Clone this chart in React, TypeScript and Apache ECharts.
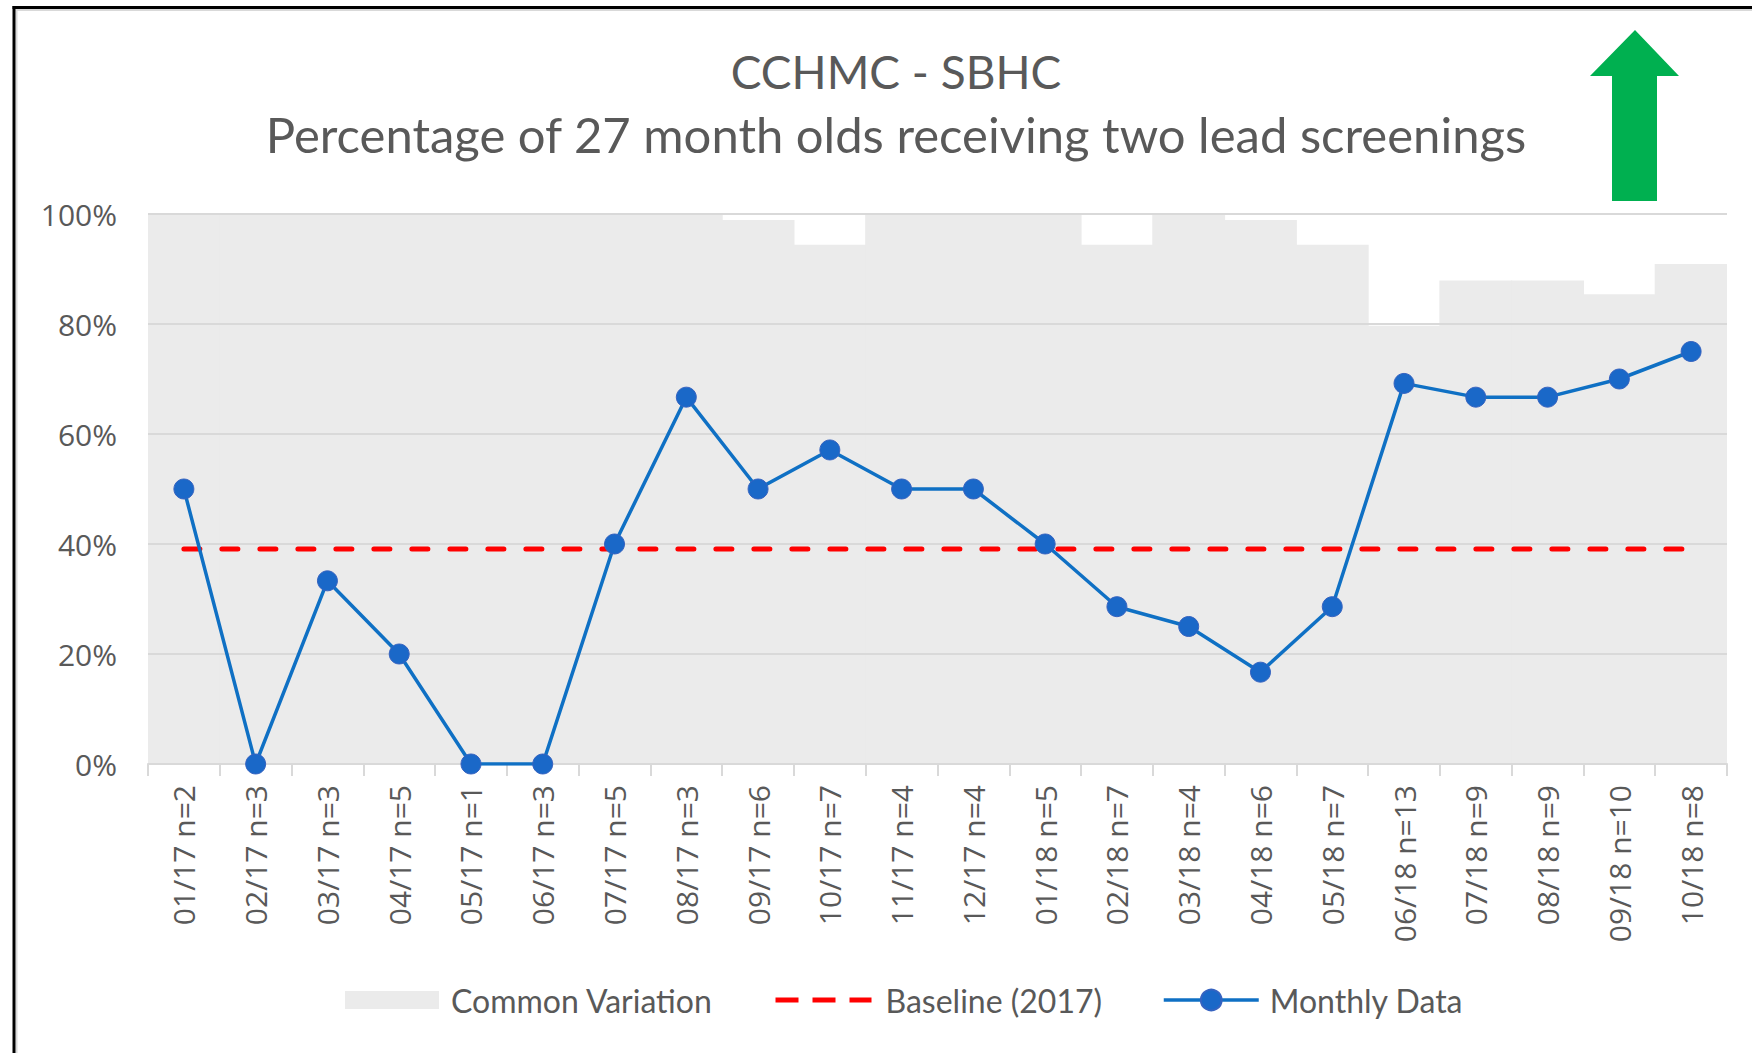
import React, { useEffect, useRef } from 'react';
import * as echarts from 'echarts';

const titleLine1 = 'CCHMC - SBHC';
const titleLine2 = 'Percentage of 27 month olds receiving two lead screenings';

const categories = [
  '01/17 n=2', '02/17 n=3', '03/17 n=3', '04/17 n=5', '05/17 n=1', '06/17 n=3',
  '07/17 n=5', '08/17 n=3', '09/17 n=6', '10/17 n=7', '11/17 n=4', '12/17 n=4',
  '01/18 n=5', '02/18 n=7', '03/18 n=4', '04/18 n=6', '05/18 n=7', '06/18 n=13',
  '07/18 n=9', '08/18 n=9', '09/18 n=10', '10/18 n=8',
];

// Upper limit of the common variation band (%), capped at 100
const commonVariation = [
  100, 100, 100, 100, 100, 100, 100, 100, 98.9, 94.4, 100, 100,
  100, 94.4, 100, 98.9, 94.4, 79.7, 87.9, 87.9, 85.4, 90.9,
];

const baseline = [
  39.1, 39.1, 39.1, 39.1, 39.1, 39.1, 39.1, 39.1, 39.1, 39.1, 39.1, 39.1,
  39.1, 39.1, 39.1, 39.1, 39.1, 39.1, 39.1, 39.1, 39.1, 39.1,
];

const monthlyData = [
  50, 0, 33.3, 20, 0, 0, 40, 66.7, 50, 57.1, 50, 50,
  40, 28.6, 25, 16.7, 28.6, 69.2, 66.7, 66.7, 70, 75,
];

const yMin = 0;
const yMax = 100;
const yInterval = 20;

const TEXT = '#595959';
const TITLE_FONT = 'Lato, "Noto Sans", sans-serif';
const AXIS_FONT = '"Open Sans", "Noto Sans", sans-serif';

export default function App() {
  const ref = useRef<HTMLDivElement>(null);

  useEffect(() => {
    if (!ref.current) return;
    const chart = echarts.init(ref.current, null, { renderer: 'svg' });
    const legendText = { fontFamily: TITLE_FONT, fontSize: 32, color: TEXT };
    chart.setOption({
      animation: false,
      backgroundColor: '#ffffff',
      title: [
        {
          text: titleLine1,
          left: 891,
          top: 43,
          textAlign: 'center',
          textStyle: { fontFamily: TITLE_FONT, fontSize: 46, fontWeight: 'normal', color: TEXT },
        },
        {
          text: titleLine2,
          left: 891,
          top: 104,
          textAlign: 'center',
          textStyle: { fontFamily: TITLE_FONT, fontSize: 49, fontWeight: 'normal', color: TEXT },
        },
      ],
      grid: { left: 148, right: 25, top: 214, bottom: 289, containLabel: false },
      xAxis: {
        type: 'category',
        data: categories,
        boundaryGap: true,
        z: 3,
        splitLine: { show: false },
        axisLine: { show: true, lineStyle: { color: '#d9d9d9', width: 2 } },
        axisTick: { show: true, length: 12, lineStyle: { color: '#d9d9d9', width: 2 } },
        axisLabel: {
          rotate: 90,
          interval: 0,
          margin: 21,
          color: TEXT,
          fontFamily: AXIS_FONT,
          fontSize: 30,
        },
      },
      yAxis: {
        type: 'value',
        min: yMin,
        max: yMax,
        interval: yInterval,
        z: 3,
        axisLine: { show: false },
        axisTick: { show: false },
        splitLine: { show: true, lineStyle: { color: '#d9d9d9', width: 2 } },
        axisLabel: {
          formatter: '{value}%',
          margin: 31,
          color: TEXT,
          fontFamily: AXIS_FONT,
          fontSize: 30,
        },
      },
      legend: [
        {
          data: [{ name: 'Common Variation', icon: 'rect' }],
          left: 345,
          top: 984,
          padding: 0,
          itemWidth: 94,
          itemHeight: 18,
          textStyle: { ...legendText, padding: [0, 0, 0, 7] },
        },
        {
          data: [
            {
              name: 'Baseline (2017)',
              itemStyle: { opacity: 0 },
              lineStyle: { color: '#ff0000', width: 5, type: [23, 14], cap: 'butt' },
            },
          ],
          left: 773,
          top: 984,
          padding: 0,
          itemWidth: 96,
          itemHeight: 20,
          textStyle: { ...legendText, padding: [0, 0, 0, 9] },
        },
        {
          data: [{ name: 'Monthly Data', lineStyle: { color: '#0f70c4', width: 3.5 } }],
          left: 1162,
          top: 984,
          padding: 0,
          itemWidth: 95,
          itemHeight: 26,
          textStyle: { ...legendText, padding: [0, 0, 0, 6] },
        },
      ],
      series: [
        {
          name: 'Common Variation',
          type: 'bar',
          data: commonVariation,
          barWidth: '101.5%',
          itemStyle: { color: '#ebebeb', borderWidth: 0 },
          z: 1,
          silent: true,
        },
        {
          name: 'Baseline (2017)',
          type: 'line',
          data: baseline,
          symbol: 'none',
          lineStyle: { color: '#ff0000', width: 5, type: [16, 22], cap: 'round' },
          itemStyle: { color: '#ff0000' },
          z: 5,
        },
        {
          name: 'Monthly Data',
          type: 'line',
          data: monthlyData,
          symbol: 'circle',
          symbolSize: 20,
          lineStyle: { color: '#0f70c4', width: 3.5 },
          itemStyle: { color: '#1a68c8', borderColor: '#3663c0', borderWidth: 1 },
          z: 6,
        },
      ],
      graphic: [
        {
          type: 'polygon',
          shape: {
            points: [
              [1635, 30], [1679, 76], [1657, 76], [1657, 201],
              [1612, 201], [1612, 76], [1590, 76],
            ],
          },
          style: { fill: '#00b050' },
          z: 10,
        },
        { type: 'line', shape: { x1: 16.5, y1: 10, x2: 16.5, y2: 1053 }, style: { stroke: '#d9d9d9', lineWidth: 2 }, z: 10 },
        { type: 'line', shape: { x1: 15.5, y1: 10, x2: 1752, y2: 10 }, style: { stroke: '#d9d9d9', lineWidth: 2 }, z: 10 },
        { type: 'line', shape: { x1: 14, y1: 6, x2: 14, y2: 1053 }, style: { stroke: '#000000', lineWidth: 3 }, z: 11 },
        { type: 'line', shape: { x1: 12.5, y1: 7.5, x2: 1752, y2: 7.5 }, style: { stroke: '#000000', lineWidth: 3 }, z: 11 },
      ],
    });
    return () => chart.dispose();
  }, []);

  return (
    <div
      ref={ref}
      style={{ position: 'absolute', left: 0, top: 0, width: 1752, height: 1053, background: '#ffffff' }}
    />
  );
}
